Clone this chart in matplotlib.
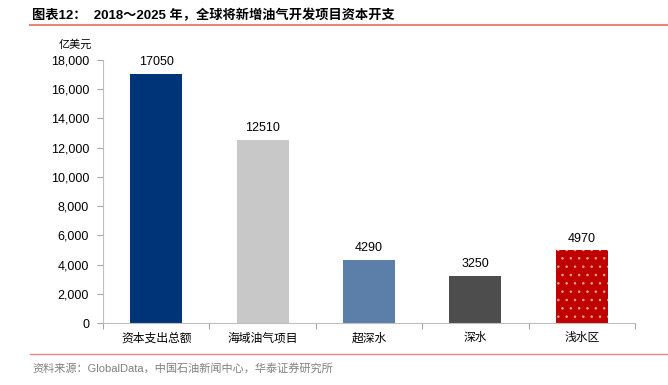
import matplotlib
matplotlib.use("Agg")
import matplotlib.pyplot as plt
from matplotlib.lines import Line2D

plt.rcParams['font.family'] = ['Liberation Sans', 'Noto Sans CJK SC', 'DejaVu Sans']
plt.rcParams['hatch.linewidth'] = 0.6

categories = ["资本支出总额", "海域油气项目", "超深水", "深水", "浅水区"]
values = [17050, 12510, 4290, 3250, 4970]
colors = ["#003478", "#c8c8c8", "#5b7fa8", "#4d4d4d", "#c00000"]
yticks = [0, 2000, 4000, 6000, 8000, 10000, 12000, 14000, 16000, 18000]

fig = plt.figure(figsize=(6.68, 3.85), dpi=100)
ax = fig.add_axes([103 / 668, 1 - 323 / 385, 532 / 668, 263 / 385])

x = range(len(categories))
bars = ax.bar(x, values, width=0.49, color=colors, linewidth=0)
# dotted pattern on last bar
bars[-1].set_hatch('..')
bars[-1].set_edgecolor('#e9a0a0')

for xi, v in zip(x, values):
    ax.text(xi, v + 400, str(v), ha='center', va='bottom', fontsize=9, color='#000000')

ax.set_xlim(-0.5, len(categories) - 0.5)
ax.set_ylim(0, 18000)
ax.set_yticks(yticks)
ax.set_yticklabels([f"{t:,}" for t in yticks], fontsize=9)
ax.set_xticks([i - 0.5 for i in range(len(categories) + 1)])
ax.set_xticklabels([])
ax.set_xticks(list(x), minor=True)
ax.set_xticklabels(categories, minor=True, fontsize=8.5, family=['Noto Sans CJK SC'])
ax.tick_params(axis='x', which='minor', length=0, pad=6)
ax.tick_params(axis='x', which='major', length=4, color='#a6a6a6', direction='out')
ax.tick_params(axis='y', length=4, color='#a6a6a6', direction='out', pad=6)

for s in ['top', 'right']:
    ax.spines[s].set_visible(False)
ax.spines['left'].set_color('#bfbfbf')
ax.spines['bottom'].set_color('#bfbfbf')

fig.text(75 / 668, 1 - 45 / 385, "亿美元", ha='center', va='center', fontsize=8,
         family=['Noto Sans CJK SC'])

fig.text(32 / 668, 1 - 16 / 385, "图表12：  2018～2025 年，全球将新增油气开发项目资本开支",
         ha='left', va='center', fontsize=9.5, fontweight='bold',
         family=['Liberation Sans', 'Noto Sans CJK SC'])
fig.add_artist(Line2D([30 / 668, 1.0], [1 - 25 / 385] * 2, color='#e8857c', linewidth=1.5))
fig.add_artist(Line2D([30 / 668, 1.0], [1 - 354 / 385] * 2, color='#e8857c', linewidth=1.0))
fig.text(32 / 668, 1 - 368 / 385, "资料来源：GlobalData，中国石油新闻中心，华泰证券研究所",
         ha='left', va='center', fontsize=8, color='#808080',
         family=['Liberation Sans', 'Noto Sans CJK SC'])

fig.savefig("out.png", dpi=100)
